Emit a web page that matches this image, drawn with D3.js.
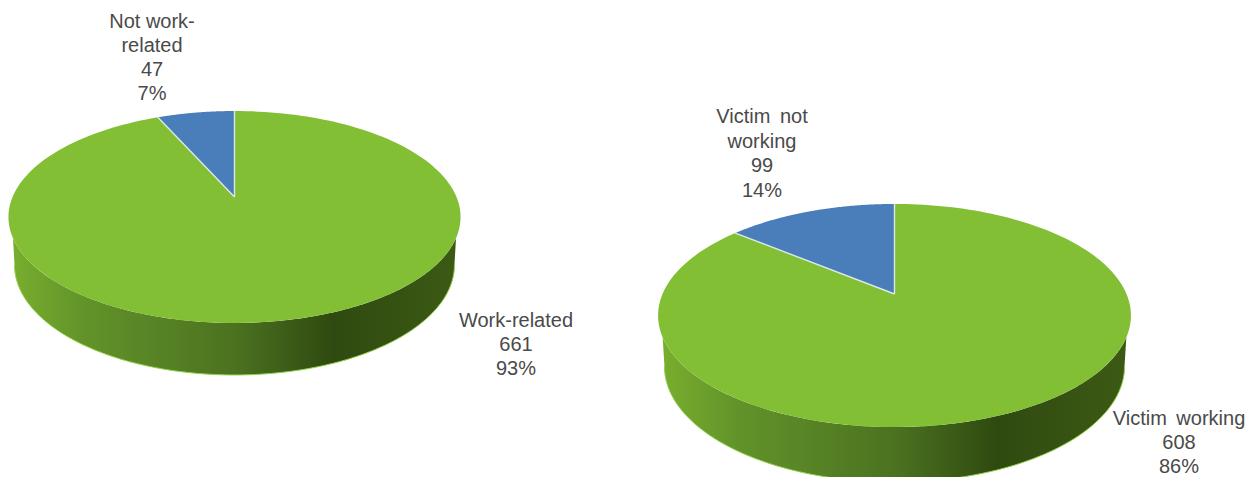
<!DOCTYPE html>
<html>
<head>
<meta charset="utf-8">
<script src="https://cdn.jsdelivr.net/npm/d3@7"></script>
<style>
  html, body { margin: 0; padding: 0; background: #fff; overflow: hidden; }
  text { font-family: "Liberation Sans", Arial, sans-serif; font-size: 20px; fill: #4a4a4a; text-anchor: middle; }
</style>
</head>
<body>
<svg id="chart" width="1250" height="477"></svg>
<script>
// Incident counts for the two breakdowns
const workCategories = ["Not work-related", "Work-related"];
const workValues = [47, 661];
const workPercents = ["7%", "93%"];
const workLabelLines = [["Not work-", "related"], ["Work-related"]];

const victimCategories = ["Victim not working", "Victim working"];
const victimValues = [99, 608];
const victimPercents = ["14%", "86%"];
const victimLabelLines = [["Victim not", "working"], ["Victim working"]];

const sliceColors = ["#4a7ebb", "#82bf34"];

// Horizontal shading of the cylinder wall, as fractions of its width
const wallStops = [0, 0.16, 0.50, 0.72, 1];
const wallColors = ["#78ae2e", "#62932a", "#4b7220", "#2f4a10", "#3c5a14"];

const svg = d3.select("#chart");
const defs = svg.append("defs");
const rimLine = d3.line().curve(d3.curveLinear);

function drawPie(cfg) {
  const g = svg.append("g");

  // The small slice ends at twelve o'clock; the large one continues clockwise from there
  const smallTurn = cfg.values[0] / d3.sum(cfg.values) * 2 * Math.PI;
  const arcs = d3.pie().sort(null).startAngle(-smallTurn).endAngle(2 * Math.PI - smallTurn)(cfg.values);

  // Perspective projection of the tilted disc onto the page
  const project = (theta, sx = 1, sy = 1, dy = 0) => {
    const u = Math.sin(theta), v = Math.cos(theta), w = 1 + cfg.k * v;
    return [cfg.cx + sx * cfg.bx * u / w, cfg.cy + dy - sy * cfg.ay * v / w];
  };
  const sweep = (a0, a1, sx, sy, dy) =>
    d3.range(0, 181).map(i => project(a0 + (a1 - a0) * i / 180, sx, sy, dy));

  // Side wall with its horizontal shading
  const xGrad = d3.scaleLinear().domain([0, 1]).range([cfg.cx - cfg.bx, cfg.cx + cfg.bx]);
  const gradId = "wall-" + cfg.id;
  const grad = defs.append("linearGradient").attr("id", gradId)
    .attr("gradientUnits", "userSpaceOnUse")
    .attr("x1", xGrad(0)).attr("x2", xGrad(1)).attr("y1", 0).attr("y2", 0);
  wallStops.forEach((s, i) => grad.append("stop").attr("offset", s).attr("stop-color", wallColors[i]));

  const rad = d => d * Math.PI / 180;
  const lowerRim = sweep(rad(101), rad(259), cfg.wallX, cfg.wallY, cfg.depth);
  const upperRim = sweep(rad(248), rad(112), 1, 1, 0);
  g.append("path").attr("d", rimLine(lowerRim.concat(upperRim)) + "Z").attr("fill", `url(#${gradId})`);
  g.append("path").attr("d", rimLine(lowerRim)).attr("fill", "none")
    .attr("stroke", "#93d047").attr("stroke-width", 1);

  // Top face: the slices, projected through the same perspective
  arcs.forEach((a, i) => {
    const pts = [[cfg.cx, cfg.cy]].concat(sweep(a.startAngle, a.endAngle, 1, 1, 0));
    g.append("path").attr("d", rimLine(pts) + "Z").attr("fill", sliceColors[i]);
  });

  // Pale separators along the two radial edges of the small slice
  const small = arcs[0];
  [small.startAngle, small.endAngle].forEach(t => {
    g.append("path").attr("d", rimLine([[cfg.cx, cfg.cy], project(t)]))
      .attr("stroke", "#dbe8ea").attr("stroke-width", 1.4).attr("fill", "none");
  });

  // Category, count and share labels
  cfg.values.forEach((val, i) => {
    const lines = cfg.labelLines[i].concat([String(val), cfg.percents[i]]);
    const t = g.append("text").attr("aria-label", cfg.categories[i]);
    lines.forEach((s, j) => t.append("tspan")
      .attr("x", cfg.labelX[i])
      .attr("y", cfg.labelY[i] + j * cfg.lineStep[i])
      .attr("word-spacing", cfg.wordGap)
      .text(s));
  });
}

drawPie({
  id: "work", categories: workCategories, values: workValues, percents: workPercents,
  labelLines: workLabelLines,
  cx: 234.5, cy: 197, bx: 222, ay: 102.2, k: 0.1887, depth: 47.2, wallX: 0.973, wallY: 1.038,
  labelX: [152, 516], labelY: [28, 327], lineStep: [24, 24], wordGap: 0
});

drawPie({
  id: "victim", categories: victimCategories, values: victimValues, percents: victimPercents,
  labelLines: victimLabelLines,
  cx: 894.5, cy: 294, bx: 232, ay: 107.4, k: 0.1928, depth: 50, wallX: 0.973, wallY: 1.038,
  labelX: [762, 1179], labelY: [123, 425], lineStep: [24.6, 23.8], wordGap: 4
});
</script>
</body>
</html>
